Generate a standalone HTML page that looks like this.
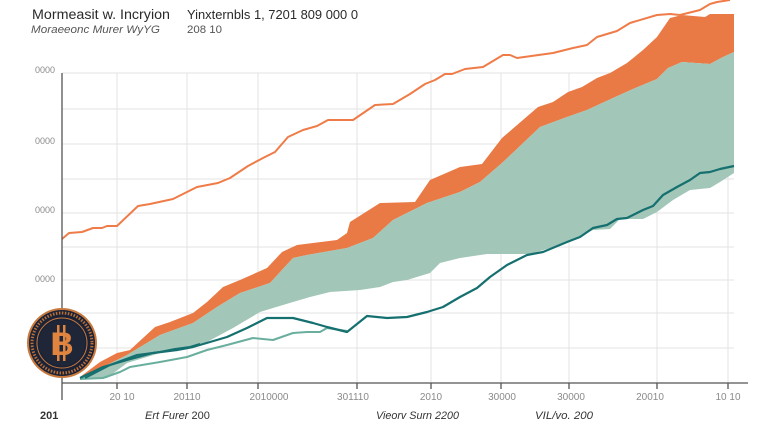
<!DOCTYPE html>
<html><head><meta charset="utf-8"><style>
html,body{margin:0;padding:0;background:#fff;}
svg{display:block;}
text{font-family:"Liberation Sans",sans-serif;}
</style></head><body>
<svg width="760" height="426" viewBox="0 0 760 426" xmlns="http://www.w3.org/2000/svg">
<rect width="760" height="426" fill="#fff"/>
<!-- header -->
<text x="32" y="19" font-size="13.5" fill="#2a2a2a" textLength="138" lengthAdjust="spacingAndGlyphs">Mormeasit w. Incryion</text>
<text x="187" y="19" font-size="13" fill="#2a2a2a" textLength="171" lengthAdjust="spacingAndGlyphs">Yinxternbls 1, 7201 809 000 0</text>
<text x="31" y="33" font-size="11" font-style="italic" fill="#555" textLength="129" lengthAdjust="spacingAndGlyphs">Moraeeonc Murer WyYG</text>
<text x="187" y="33" font-size="11" fill="#555" textLength="35" lengthAdjust="spacingAndGlyphs">208 10</text>
<!-- grid -->
<g stroke="#e3e3e3" stroke-width="1">
<line x1="62" y1="73" x2="734" y2="73"/><line x1="62" y1="109" x2="734" y2="109"/>
<line x1="62" y1="144" x2="734" y2="144"/><line x1="62" y1="179" x2="734" y2="179"/>
<line x1="62" y1="213" x2="734" y2="213"/><line x1="62" y1="247" x2="734" y2="247"/>
<line x1="62" y1="280" x2="734" y2="280"/><line x1="62" y1="313" x2="734" y2="313"/>
<line x1="62" y1="348" x2="734" y2="348"/>
<line x1="117" y1="73" x2="117" y2="383"/><line x1="187" y1="73" x2="187" y2="383"/>
<line x1="258" y1="73" x2="258" y2="383"/><line x1="357" y1="73" x2="357" y2="383"/>
<line x1="431" y1="73" x2="431" y2="383"/><line x1="501" y1="73" x2="501" y2="383"/>
<line x1="569" y1="73" x2="569" y2="383"/><line x1="657" y1="73" x2="657" y2="383"/>
<line x1="728" y1="73" x2="728" y2="383"/>
</g>
<!-- y labels -->
<g font-size="9" fill="#8a8a8a" text-anchor="end">
<text x="55" y="73">0000</text><text x="55" y="144">0000</text>
<text x="55" y="213">0000</text><text x="55" y="282">0000</text>
</g>
<!-- orange area -->
<polygon fill="#E97A45" points="80,377 100,362 117,353 130,350 155,327 170,322 193,313 207,302 223,287 240,280 267,268 282,252 297,245 337,240 347,233 350,222 380,203 415,202 430,180 460,167 482,164 502,138 538,107 553,102 568,92 582,87 597,78 610,73 627,63 643,50 657,37 670,18 682,15 705,17 710,14 734,14 734,52 723,57 710,64 682,62 668,68 657,79 633,89 613,98 587,110 567,117 540,127 502,163 480,182 460,192 427,203 393,220 373,238 347,248 307,255 293,258 270,283 240,293 217,307 193,323 160,335 127,355 103,367 80,378"/>
<!-- teal area -->
<polygon fill="#A2C6B8" points="80,378 103,367 127,355 160,335 193,323 217,307 240,293 270,283 293,258 307,255 347,248 373,238 393,220 427,203 460,192 480,182 502,163 540,127 567,117 587,110 613,98 633,89 657,79 668,68 682,62 710,64 723,57 734,52 734,173 720,182 710,188 690,190 673,200 657,212 643,219 620,219 610,229 593,230 567,243 530,254 487,254 460,258 440,263 430,273 407,280 393,282 380,287 360,290 330,292 310,297 293,302 273,308 260,312 233,328 207,342 190,347 170,350 147,357 127,363 107,378"/>
<!-- orange line -->
<polyline fill="none" stroke="#EF7C48" stroke-width="2" stroke-linejoin="round" points="62,239 69,233 82,232 93,228 102,228 107,226 117,226 138,206 150,204 173,199 197,187 218,183 230,178 248,166 263,158 275,152 288,137 303,130 317,126 328,120 353,120 375,105 393,104 410,94 425,84 435,80 445,74 452,74 465,69 483,67 503,55 510,55 517,58 553,53 573,48 587,45 597,37 617,31 630,23 657,15 670,14 680,15 700,10 710,4 717,2 730,0"/>
<!-- light teal line -->
<polyline fill="none" stroke="#6AAE9E" stroke-width="2" stroke-linejoin="round" points="80,379 103,378 120,372 130,367 160,362 187,357 207,350 227,345 253,338 273,340 293,333 307,332 320,332 327,328 347,331"/>
<!-- dark teal lines -->
<polyline fill="none" stroke="#15706F" stroke-width="2" stroke-linejoin="round" points="85,378 110,365 137,355 160,352 175,349 190,347 200,344"/>
<polyline fill="none" stroke="#15706F" stroke-width="2.2" stroke-linejoin="round" points="80,378 103,367 127,360 153,353 177,350 193,347 210,342 227,337 247,328 267,318 293,318 313,323 327,327 347,332 367,316 387,318 407,317 427,312 443,307 460,297 477,288 490,277 507,265 527,255 543,252 567,242 580,237 593,228 607,225 617,219 627,218 643,210 653,206 663,195 677,187 690,180 700,173 710,172 720,169 734,166"/>
<!-- axes -->
<g stroke="#555" stroke-width="1.3">
<line x1="62" y1="73" x2="62" y2="400"/>
<line x1="62" y1="383" x2="748" y2="383"/>
<line x1="117" y1="383" x2="117" y2="389"/><line x1="187" y1="383" x2="187" y2="389"/>
<line x1="258" y1="383" x2="258" y2="389"/><line x1="357" y1="383" x2="357" y2="389"/>
<line x1="431" y1="383" x2="431" y2="389"/><line x1="501" y1="383" x2="501" y2="389"/>
<line x1="569" y1="383" x2="569" y2="389"/><line x1="657" y1="383" x2="657" y2="389"/>
<line x1="728" y1="383" x2="728" y2="389"/>
</g>
<!-- x labels -->
<g font-size="10" fill="#8a8a8a" text-anchor="middle">
<text x="122" y="400">20 10</text><text x="187" y="400">20110</text>
<text x="269" y="400">2010000</text><text x="353" y="400">301110</text>
<text x="431" y="400">2010</text><text x="502" y="400">30000</text>
<text x="571" y="400">30000</text><text x="650" y="400">20010</text>
<text x="728" y="400">10 10</text>
</g>
<!-- bottom labels -->
<text x="40" y="419" font-size="11" font-weight="bold" fill="#333">201</text>
<text x="145" y="419" font-size="11" fill="#333"><tspan font-style="italic">Ert Furer</tspan> 200</text>
<text x="376" y="419" font-size="11" font-style="italic" fill="#333" textLength="83" lengthAdjust="spacingAndGlyphs">Vieorv Surn 2200</text>
<text x="535" y="419" font-size="11" font-style="italic" fill="#333" textLength="58" lengthAdjust="spacingAndGlyphs">VIL/vo. 200</text>
<!-- bitcoin coin -->
<g>
<circle cx="62" cy="343" r="35" fill="#C87A3E"/>
<circle cx="62" cy="343" r="33" fill="#1B2236"/>
<circle cx="62" cy="343" r="30" fill="none" stroke="#B86F38" stroke-width="3" stroke-dasharray="1.5 1.5"/>
<circle cx="62" cy="343" r="25" fill="none" stroke="#C87A3E" stroke-width="1"/>
<circle cx="62" cy="343" r="23" fill="#1E2638"/>
<rect x="57" y="325" width="2.5" height="36" fill="#E0843F"/>
<rect x="63" y="325" width="2.5" height="36" fill="#E0843F"/>
<text x="62" y="355" font-size="32" font-weight="bold" fill="#E0843F" text-anchor="middle">B</text>
</g>
</svg>
</body></html>
